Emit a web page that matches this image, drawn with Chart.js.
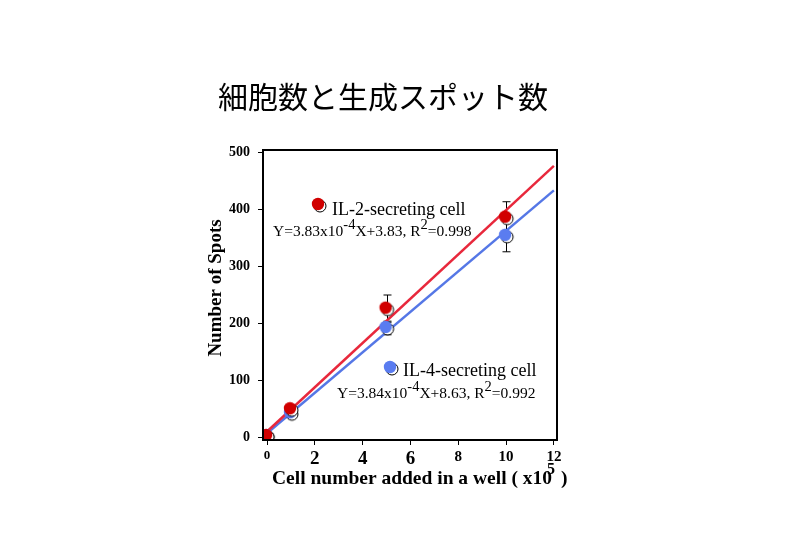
<!DOCTYPE html>
<html>
<head>
<meta charset="utf-8">
<script src="https://cdn.jsdelivr.net/npm/chart.js@4/dist/chart.umd.min.js"></script>
<style>
  html, body { margin: 0; padding: 0; background: #fff; }
  #wrap { width: 809px; height: 539px; }
</style>
</head>
<body>
<div id="wrap"><canvas id="spots"></canvas></div>
<script>
// values (cells in units of 10^5)
const cellCounts = [0, 1, 5, 10];
const il2Spots = [2, 49, 226, 386];
const il2Err = [0, 3, 24, 28];
const il4Spots = [2, 42, 192, 354];
const il4Err = [0, 3, 12, 28];
// regression lines as drawn
const fitX = [0, 12];
const il2Fit = [10, 477];
const il4Fit = [7, 434];

const xTicks = [0, 2, 4, 6, 8, 10, 12];
const yTicks = [0, 100, 200, 300, 400, 500];

const title = '細胞数と生成スポット数';
const yTitle = 'Number of Spots';
const xTitle = 'Cell number added in a well ( x10';
const il2Label = 'IL-2-secreting cell';
const il4Label = 'IL-4-secreting cell';
const il2Eq = [['Y=3.83x10', 0], ['-4', 1], ['X+3.83, R', 0], ['2', 1], ['=0.998', 0]];
const il4Eq = [['Y=3.84x10', 0], ['-4', 1], ['X+8.63, R', 0], ['2', 1], ['=0.992', 0]];

const RED = '#d10000', BLUE = '#5a7cf0';
const RED_LINE = '#e8283c', BLUE_LINE = '#5577e6';

function makeDot(fill) {
    const c = document.createElement('canvas');
    c.width = c.height = 18;
    const g = c.getContext('2d');
    g.fillStyle = '#fff';
    g.strokeStyle = '#000';
    g.lineWidth = 1;
    g.beginPath(); g.arc(10, 10, 6, 0, 2 * Math.PI); g.fill(); g.stroke();
    g.fillStyle = fill;
    g.beginPath(); g.arc(8, 8, 6.2, 0, 2 * Math.PI); g.fill();
    return c;
}
const redDot = makeDot(RED);
const blueDot = makeDot(BLUE);

const pts = (xs, ys) => xs.map((x, i) => ({x: x, y: ys[i]}));

function drawRich(ctx, parts, x, y, size) {
    for (const [t, sup] of parts) {
        ctx.font = (sup ? size - 1 : size) + 'px "Liberation Serif"';
        ctx.fillText(t, x, sup ? y - size * 0.42 : y);
        x += ctx.measureText(t).width;
    }
}

const extras = {
    id: 'extras',
    beforeDatasetsDraw(chart) {
        const ctx = chart.ctx, xs = chart.scales.x, ys = chart.scales.y;
        ctx.save();
        ctx.strokeStyle = '#000';
        ctx.lineWidth = 1;
        [[il4Spots, il4Err], [il2Spots, il2Err]].forEach(([vals, errs]) => {
            vals.forEach((v, i) => {
                if (!errs[i]) return;
                const px = Math.round(xs.getPixelForValue(cellCounts[i])) + 0.5;
                const top = ys.getPixelForValue(v + errs[i]);
                const bot = ys.getPixelForValue(v - errs[i]);
                ctx.beginPath();
                ctx.moveTo(px, top); ctx.lineTo(px, bot);
                ctx.moveTo(px - 4, top); ctx.lineTo(px + 4, top);
                ctx.moveTo(px - 4, bot); ctx.lineTo(px + 4, bot);
                ctx.stroke();
            });
        });
        ctx.restore();
    },
    afterDraw(chart) {
        const ctx = chart.ctx, a = chart.chartArea;
        ctx.save();
        ctx.strokeStyle = '#000';
        ctx.lineWidth = 2;
        ctx.strokeRect(a.left, a.top, a.right - a.left, a.bottom - a.top);

        ctx.fillStyle = '#000';
        ctx.textBaseline = 'alphabetic';
        ctx.font = '30px "Noto Sans CJK JP"';
        ctx.textAlign = 'center';
        ctx.fillText(title, 383, 108);

        ctx.font = 'bold 19px "Liberation Serif"';
        ctx.save();
        ctx.translate(221, 288);
        ctx.rotate(-Math.PI / 2);
        ctx.fillText(yTitle, 0, 0);
        ctx.restore();

        ctx.textAlign = 'left';
        ctx.font = 'bold 19.5px "Liberation Serif"';
        ctx.fillText(xTitle, 272, 484);
        const w = ctx.measureText(xTitle).width;
        ctx.fillText(' )', 272 + w + 4, 484);
        ctx.font = 'bold 16px "Liberation Serif"';
        ctx.fillText('5', 272 + w - 5, 474);

        ctx.drawImage(redDot, 310, 196);
        ctx.drawImage(blueDot, 382, 359);
        ctx.font = '18px "Liberation Serif"';
        ctx.fillText(il2Label, 332, 215);
        ctx.fillText(il4Label, 403, 376);
        drawRich(ctx, il2Eq, 273, 236, 15.5);
        drawRich(ctx, il4Eq, 337, 398, 15.5);
        ctx.restore();
    }
};

const xFont = ctx => {
    const v = ctx.tick ? ctx.tick.value : 0;
    if (v === 0) return {family: '"Liberation Serif"', size: 13, weight: 'bold'};
    if (v <= 6) return {family: '"Liberation Serif"', size: 19, weight: 'bold'};
    return {family: '"Liberation Serif"', size: 15, weight: 'bold'};
};

new Chart(document.getElementById('spots'), {
    type: 'scatter',
    data: {
        datasets: [
            {data: pts(cellCounts, il2Spots), pointStyle: redDot, pointRadius: 7, order: 1},
            {data: pts(cellCounts, il4Spots), pointStyle: blueDot, pointRadius: 7, order: 2},
            {data: pts(fitX, il2Fit), showLine: true, borderColor: RED_LINE, borderWidth: 2.5, pointRadius: 0, order: 3},
            {data: pts(fitX, il4Fit), showLine: true, borderColor: BLUE_LINE, borderWidth: 2.5, pointRadius: 0, order: 4}
        ]
    },
    plugins: [extras],
    options: {
        responsive: true,
        maintainAspectRatio: false,
        animation: false,
        layout: {padding: {left: 0, top: 150, right: 252, bottom: 0}},
        plugins: {legend: {display: false}, tooltip: {enabled: false}},
        scales: {
            x: {
                type: 'linear', min: -0.17, max: 12.13,
                afterBuildTicks: s => { s.ticks = xTicks.map(v => ({value: v})); },
                afterFit: s => { s.height = 99; },
                grid: {drawOnChartArea: false, drawTicks: true, tickLength: 5, color: '#000'},
                border: {display: false},
                ticks: {color: '#000', padding: 3, maxRotation: 0, autoSkip: false, font: xFont}
            },
            y: {
                type: 'linear', min: -5, max: 505,
                afterBuildTicks: s => { s.ticks = yTicks.map(v => ({value: v})); },
                afterFit: s => { s.width = 263; },
                grid: {drawOnChartArea: false, drawTicks: true, tickLength: 5, color: '#000'},
                border: {display: false},
                ticks: {color: '#000', padding: 8, font: {family: '"Liberation Serif"', size: 14, weight: 'bold'}}
            }
        }
    }
});
</script>
</body>
</html>
